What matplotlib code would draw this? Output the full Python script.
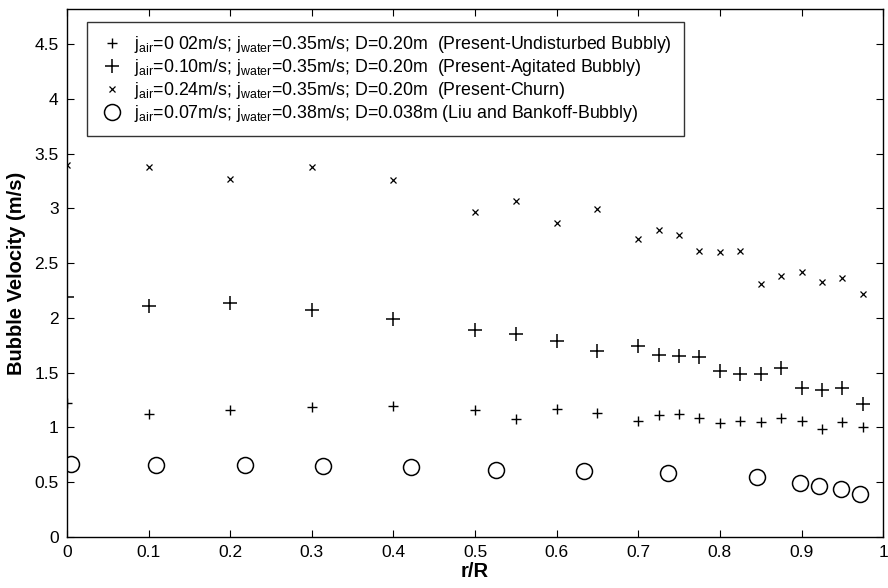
import numpy as np
import matplotlib
matplotlib.use("Agg")
import matplotlib.pyplot as plt
from matplotlib.ticker import FuncFormatter

plt.rcParams['font.family'] = ['Liberation Sans', 'DejaVu Sans']
plt.rcParams['mathtext.fontset'] = 'custom'
plt.rcParams['mathtext.rm'] = 'Liberation Sans'

# radial positions for the present measurements
r_present = [0.0, 0.1, 0.2, 0.3, 0.4, 0.5, 0.55, 0.6, 0.65, 0.7, 0.725, 0.75,
             0.775, 0.8, 0.825, 0.85, 0.875, 0.9, 0.925, 0.95, 0.975]

# undisturbed bubbly, j_air = 0.02
v_undisturbed = [1.22, 1.12, 1.16, 1.19, 1.20, 1.16, 1.08, 1.17, 1.13, 1.06, 1.11,
                 1.12, 1.09, 1.04, 1.06, 1.05, 1.09, 1.06, 0.99, 1.05, 1.00]

# agitated bubbly, j_air = 0.10
v_agitated = [2.19, 2.11, 2.14, 2.07, 1.99, 1.89, 1.85, 1.79, 1.70, 1.74, 1.665,
              1.65, 1.64, 1.52, 1.49, 1.49, 1.54, 1.36, 1.345, 1.36, 1.21]

# churn, j_air = 0.24
v_churn = [3.40, 3.38, 3.27, 3.38, 3.26, 2.97, 3.07, 2.87, 2.99, 2.72, 2.80,
           2.76, 2.61, 2.60, 2.61, 2.31, 2.38, 2.42, 2.33, 2.36, 2.22]

# Liu and Bankoff bubbly data
r_liu = [0.005, 0.109, 0.218, 0.314, 0.421, 0.526, 0.634, 0.736, 0.845,
         0.898, 0.921, 0.949, 0.972]
v_liu = [0.67, 0.66, 0.66, 0.65, 0.64, 0.61, 0.60, 0.58, 0.55, 0.49, 0.47, 0.44, 0.39]

labels = [
    r"j$_{\mathregular{air}}$=0 02m/s; j$_{\mathregular{water}}$=0.35m/s; D=0.20m  (Present-Undisturbed Bubbly)",
    r"j$_{\mathregular{air}}$=0.10m/s; j$_{\mathregular{water}}$=0.35m/s; D=0.20m  (Present-Agitated Bubbly)",
    r"j$_{\mathregular{air}}$=0.24m/s; j$_{\mathregular{water}}$=0.35m/s; D=0.20m  (Present-Churn)",
    r"j$_{\mathregular{air}}$=0.07m/s; j$_{\mathregular{water}}$=0.38m/s; D=0.038m (Liu and Bankoff-Bubbly)",
]

fig = plt.figure(figsize=(8.88, 5.88), dpi=100)
ax = fig.add_axes([0.0755, 0.0867, 0.919, 0.898])

ax.plot(r_present, v_undisturbed, linestyle='none', marker='+', markersize=7,
        markeredgewidth=1.0, color='black', label=labels[0])
ax.plot(r_present, v_agitated, linestyle='none', marker='+', markersize=10,
        markeredgewidth=1.1, color='black', label=labels[1])
ax.plot(r_present, v_churn, linestyle='none', marker='x', markersize=5,
        markeredgewidth=0.9, color='black', label=labels[2])
ax.plot(r_liu, v_liu, linestyle='none', marker='o', markersize=11.5,
        markerfacecolor='none', markeredgewidth=1.1, color='black', label=labels[3])

ax.set_xlim(0, 1)
ax.set_ylim(0, 4.82)
ax.set_xticks(np.arange(0, 1.01, 0.1))
ax.set_yticks(np.arange(0, 4.51, 0.5))
fmt = FuncFormatter(lambda v, p: ('%g' % round(v, 2)))
ax.xaxis.set_major_formatter(fmt)
ax.yaxis.set_major_formatter(fmt)
ax.tick_params(direction='in', top=True, right=True, labelsize=12.5, length=5, pad=6)
for s in ax.spines.values():
    s.set_linewidth(1.0)

ax.set_xlabel('r/R', fontsize=14.5, fontweight='bold', labelpad=1)
ax.set_ylabel('Bubble Velocity (m/s)', fontsize=14.5, fontweight='bold', labelpad=6)

leg = ax.legend(loc='upper left', bbox_to_anchor=(0.0245, 0.975), borderaxespad=0,
                fontsize=12.8, frameon=True, fancybox=False, edgecolor='black',
                handletextpad=0.5, labelspacing=0.12, borderpad=0.65, handlelength=1.5)
leg.get_frame().set_linewidth(1.0)

fig.savefig('out.png', dpi=100)
